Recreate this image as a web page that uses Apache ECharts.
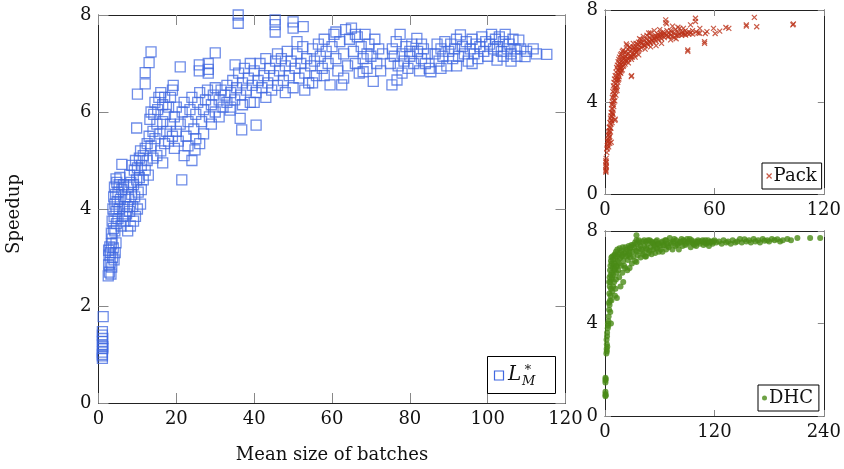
<!DOCTYPE html>
<html>
<head>
<meta charset="utf-8">
<script src="https://cdn.jsdelivr.net/npm/echarts@6/dist/echarts.min.js"></script>
<style>
html,body{margin:0;padding:0;background:#fff;}
#chart{width:844px;height:469px;}
</style>
</head>
<body>
<div id="chart"></div>
<script>
// ---- tick labels ----
var mainXTicks = [0, 20, 40, 60, 80, 100, 120];
var mainYTicks = [0, 2, 4, 6, 8];
var packXTicks = [0, 60, 120];
var dhcXTicks = [0, 120, 240];
var smallYTicks = [0, 4, 8];

// ---- series names ----
var seriesNames = ['L*M', 'Pack', 'DHC'];

// ---- L*_M points [mean batch size, speedup] ----
var lmPoints = [
[1,0.92],[1,1.0],[1,1.05],[1.1,1.12],[1,1.2],[1,1.27],[1.1,1.33],[1,1.4],[1,1.47],[1.2,1.78],[1,0.97],[1.1,1.16],
[2.5,2.62],[2.8,2.7],[3.2,2.66],[2.6,2.85],[3.0,2.9],[3.4,2.8],[2.7,3.05],[3.1,3.1],[3.6,3.0],[2.9,3.22],[3.3,3.28],[3.8,3.2],[4.0,2.95],[4.3,3.1],[4.5,3.3],[2.6,3.15],[3.5,3.38],
[3.3,3.5],[3.8,3.6],[4.2,3.55],[4.6,3.7],[3.5,3.75],[4.0,3.85],[4.5,3.95],[5.0,3.8],[3.7,4.0],[4.2,4.1],[4.8,4.15],[5.3,4.0],[3.9,4.25],[4.4,4.3],[5.0,4.35],[5.6,4.2],[4.1,4.45],[4.7,4.55],[5.3,4.5],[6.0,4.4],[4.5,4.62],[5.5,4.65],[6.4,4.5],[6.8,3.75],[7.2,3.9],[6.6,4.05],[7.0,4.25],[5.8,3.65],[6.2,3.85],[7.5,4.05],[6.0,4.92],
[7.5,3.55],[8.2,3.65],[9.0,3.75],[9.5,3.85],[8.0,3.95],[8.8,4.05],[10.0,4.0],[10.8,4.1],[7.8,4.2],[8.5,4.3],[9.3,4.25],[10.2,4.35],[11.0,4.4],[7.6,4.45],[8.3,4.55],[9.0,4.5],[9.8,4.6],[10.5,4.65],[11.5,4.6],[8.0,4.7],[9.2,4.8],[10.0,4.85],[11.0,4.9],[12.0,4.8],[9.5,5.0],[10.5,5.05],[11.5,5.1],[12.5,5.0],[10.8,5.2],[12.0,5.25],[8.6,4.9],[12.8,4.7],
[12.5,5.35],[13.0,5.5],[13.5,5.3],[14.0,5.6],[14.5,5.45],[15.0,5.75],[13.2,5.85],[14.2,5.95],[15.2,6.05],[14.5,6.2],[15.5,6.3],[16.0,6.4],[16.5,6.15],[17.0,6.3],[15.8,5.55],[16.5,5.8],[17.2,5.95],[18.0,6.1],[18.5,6.3],[19.0,6.45],[17.5,5.6],[18.5,5.75],[19.5,5.9],[20.0,6.1],[16.0,5.2],[17.0,5.35],[18.0,5.4],[19.0,5.5],[20.0,5.6],[14.0,5.05],[15.0,5.1],[16.5,4.95],[19.5,5.25],[20.5,5.4],[21.0,5.75],[21.5,6.0],[22.0,6.2],[13.5,6.0],
[10,6.37],[12,6.58],[12,6.81],[13,7.02],[13.5,7.24],[9.8,5.67],[21,6.93],[19.2,6.55],[21.4,4.6],[24.8,5.22],[25.9,6.97],[25.9,6.85],[28.2,7.0],[28.2,6.88],[28.2,6.8],[30,7.22],[35.1,6.97],[36.8,5.63],[40.5,5.73],[36.4,5.87],[35.9,8.0],[35.9,7.83],[45.4,7.9],[45.4,7.8],[45.4,7.65],[50,7.86],[50,7.73],[52.6,7.76],[33.8,6.04],
[22.5,5.5],[23,5.8],[23.5,6.05],[24,6.3],[24.5,5.65],[25,5.95],[25.5,6.2],[26,6.4],[26.5,5.8],[27,6.05],[27.5,6.25],[28,6.45],[28.5,5.9],[29,6.15],[29.5,6.35],[30,6.5],[23,5.3],[25,5.45],[27,5.55],[29,5.75],[22,5.1],[24,5.0],[26,5.35],[30,6.0],[31,6.25],[31.5,6.45],[32,6.1],[32.5,6.35],[33,6.55],[31,5.9],[33,6.2],
[34,6.4],[34.5,6.65],[35,6.25],[35.5,6.5],[36,6.8],[36.5,6.35],[37,6.6],[37.5,6.9],[38,6.45],[38.5,6.7],[39,6.2],[39.5,6.55],[40,6.85],[40.5,6.4],[41,6.65],[41.5,7.0],[42,6.5],[42.5,6.75],[43,6.3],[43.5,6.6],[44,6.9],[44.5,6.45],[45,6.75],[45.5,7.05],[34,6.1],[37,6.15],[40,6.2],[43,7.1],[39,7.0],
[46,6.55],[46.5,6.85],[47,7.1],[47.5,6.65],[48,6.95],[48.5,7.25],[49,6.75],[49.5,7.05],[50,6.5],[50.5,6.9],[51,7.2],[51.5,6.7],[52,7.0],[52.5,7.35],[53,6.8],[53.5,7.1],[54,6.6],[54.5,6.95],[55,7.3],[55.5,7.05],[56,6.75],[46,7.2],[48,6.4],[51,7.45],[53,6.45],[55,6.6],
[56.5,7.4],[57,7.15],[57.5,6.9],[58,7.5],[58.5,7.25],[59,7.0],[59.5,6.56],[60,7.35],[60.5,7.6],[61,7.1],[61.5,6.85],[62,7.45],[62.5,6.56],[63,7.2],[63.5,7.7],[64,6.95],[64.5,7.5],[65,7.73],[65.5,7.25],[66,7.0],[66.5,7.55],[67,6.8],[67.5,7.35],[68,7.1],[68.5,7.6],[69,6.9],[69.5,7.4],[70,7.15],[70.6,6.63],[71,7.5],[71.5,7.0],[72,7.3],[72.5,6.85],[73,7.2],[58,6.75],[63,6.7],[66,7.6],[69,7.2],[61,7.65],
[75,7.0],[75.5,7.3],[76,7.15],[76.5,7.45],[77,6.95],[77.5,7.6],[78,7.2],[78.5,7.05],[79,7.35],[79.5,6.9],[80,7.15],[80.5,7.4],[81,7.0],[81.8,7.52],[82,7.25],[82.5,6.85],[83,7.1],[83.5,7.3],[84,7.0],[84.5,7.2],[85,6.9],[85.4,6.83],[75.4,6.56],[76.7,6.66],[68,6.83],[78,6.8],[80,7.25],[83,7.4],
[86.5,7.2],[87,7.4],[87.5,7.05],[88,7.3],[88.5,7.15],[89,7.45],[89.5,6.95],[90,7.25],[90.5,7.4],[91,7.1],[91.5,7.3],[92,7.5],[92.5,7.15],[93,7.59],[93.5,7.35],[94,7.2],[94.5,7.45],[95,7.05],[95.5,7.3],[96,7.5],[96.5,7.2],[97,7.4],[97.5,7.1],[98,7.35],[98.5,7.55],[99,7.25],[99.5,7.45],[100,7.15],[88,6.9],[92,6.95],[96,7.0],
[100.5,7.4],[101,7.6],[101.5,7.3],[102,7.5],[102.4,7.07],[102.5,7.35],[103,7.55],[103.5,7.25],[104,7.45],[104.5,7.6],[105,7.3],[105.5,7.4],[106,7.2],[106.5,7.5],[107,7.3],[107.5,7.15],[108,7.48],[108.5,7.3],[109.6,7.14],[110,7.25],[111.7,7.3],[112.5,7.2],[115.2,7.19],[106,7.05],[104,7.15]
];

// ---- Pack points ----
var packPoints = [
[0.5,0.95],[0.5,1.05],[0.6,1.15],[0.5,1.25],[0.6,1.35],[0.5,1.45],[0.6,1.55],[0.5,1.0],[0.7,1.2],[0.6,1.4],
[1,1.8],[1.1,1.95],[1.3,2.1],[1.5,2.25],[1.7,2.4],[1.2,2.0],[1.8,2.55],[2.0,2.3],[2.2,2.6],[2.5,2.75],[2.4,2.45],[2.8,2.9],[3.0,2.7],[1.6,2.15],[2.6,2.2],[3.4,2.25],
[3.2,3.05],[3.5,3.2],[3.3,3.4],[3.8,3.35],[4.0,3.55],[3.6,3.7],[4.3,3.7],[4.5,3.9],[4.1,4.0],[4.8,4.05],[5.0,4.2],[4.6,4.3],[5.3,4.35],[5.5,4.5],[5.1,4.6],[5.8,4.65],[5.4,3.2],[5.6,3.25],[3.9,3.1],[4.4,3.45],
[6.0,4.8],[6.3,4.6],[6.5,4.95],[6.2,5.05],[6.8,5.1],[7.0,4.85],[7.3,5.2],[7.5,5.35],[7.1,5.4],[7.8,5.3],[8.0,5.5],[8.3,5.45],[8.5,5.6],[8.1,5.7],[8.8,5.65],[9.0,5.5],[9.3,5.8],[9.6,5.7],[10.0,5.85],[9.8,5.95],[6.6,4.5],[7.6,5.0],[8.6,5.25],[9.5,5.4],[10.3,5.6],
[10.5,5.9],[11,6.0],[11.4,6.2],[11.4,5.85],[11.5,5.75],[12,6.05],[12.5,5.9],[13,6.1],[13.5,6.2],[14,6.0],[14.4,5.1],[14.6,5.15],[15,6.3],[15.3,6.15],[15.8,6.05],[16,6.35],[16.5,6.25],[17,6.4],[17.5,6.2],[18,6.5],[18.5,6.3],[19,6.45],[19.5,6.6],[20,6.35],[20,6.55],[12.8,5.7],[14.5,5.85],[16.5,5.95],[18.5,6.05],[13.3,6.4],[15.5,6.55],
[21,6.5],[21.5,6.7],[22,6.45],[22.5,6.6],[23,6.75],[23.5,6.5],[24,6.65],[24.5,6.8],[25,6.55],[25.5,6.7],[26,6.85],[26.5,6.6],[27,6.75],[27.5,6.9],[28,6.65],[28.5,6.8],[29,6.95],[29.5,6.7],[30,6.85],[30.5,7.0],[31,6.75],[31.5,6.9],[32,7.05],[32.5,6.8],[33,6.95],[33.3,7.57],[33.3,7.45],[33.8,7.4],[34,7.1],[34.5,6.85],[35,7.0],[22,6.3],[25,6.4],[28,6.45],[31,6.55],[24,7.0],[27,7.1],[30,7.15],
[36,6.9],[36.5,7.05],[37,6.85],[38,7.0],[38.5,7.15],[39,6.9],[40,7.05],[40.5,6.95],[41,7.2],[42,6.9],[42.5,7.05],[43,6.95],[44,7.1],[44.2,6.91],[45,7.0],[45.4,6.26],[45.4,6.2],[46,7.05],[46.9,7.35],[47,7.0],[48,7.1],[49.6,7.64],[49.6,7.5],[50,7.05],[51,7.0],[51.9,6.99],[52,7.2],[54.6,6.62],[54.6,6.55],[55,6.98],[37,7.3],[40,7.25],[43,7.2],[36,6.7],[39,6.75],
[55.9,7.06],[59.5,7.2],[60.4,6.98],[62.9,7.08],[66.3,7.24],[67.9,7.2],[77.5,7.35],[77.5,7.3],[81.9,7.68],[83.2,7.27],[103.3,7.39],[103,7.35],
[1.4,2.3],[1.9,2.7],[2.3,2.9],[2.7,3.1],[3.0,3.3],[3.4,3.55],[3.7,3.9],[4.0,4.2],[4.3,4.45],[4.6,4.7],[4.9,4.85],[5.2,5.0],[5.6,5.15],[6.0,5.3],[6.4,5.5],[6.8,5.6],[7.2,5.75],[7.6,5.85],[8.0,5.95],[8.5,6.05],[9.0,6.1],[9.5,6.2],[10,6.25],
[2.0,2.05],[2.6,2.5],[3.2,2.85],[3.7,3.2],[4.2,3.5],[4.8,3.8],[5.4,4.05],[6.0,4.3],[6.6,4.7],[7.2,4.95],[7.8,5.1],[8.4,5.3],[9.0,5.35],[10,5.55],[11,5.65],[12,5.8],[13,5.85],[14,5.95],[15,5.95],[16,6.1],[17,6.15],[18,6.25],[19,6.3],
[11,6.15],[12.5,6.3],[14,6.35],[15.5,6.4],[17,6.55],[18.5,6.6],[20,6.7],[21.5,6.45],[23,6.55],[24.5,6.6],[26,6.7],[27.5,6.8],[29,6.85],[30.5,6.9],[32,6.95],[33.5,6.9],[35,6.85],[36,7.1],[38,6.8],[40,6.9],[42,7.0],[44,6.95],[46,6.95],[48,6.95],[19,6.75],[21,6.85],[23,6.9],[25,7.0],[12.1,6.45],[11.7,6.52]
];

// ---- DHC points ----
var dhcPoints = [
[0.5,1.55],[0.5,1.65],[0.5,1.45],[0.5,0.95],[0.5,0.85],[0.5,1.05],[0.8,1.6],[0.8,0.9],
[1.5,2.7],[1.8,2.9],[2.0,3.1],[1.7,3.3],[2.2,3.45],[2.0,2.8],[2.5,3.0],[2.3,3.6],[3.0,3.8],[3.2,4.0],[3.5,3.9],[3.8,4.1],
[4.0,4.3],[4.5,4.6],[5.0,4.8],[5.5,5.0],[6.0,5.2],[4.3,4.9],[4.8,5.3],[5.2,5.6],[5.8,5.8],[6.5,5.5],[7.0,5.9],[6.2,6.1],[7.5,6.2],[8.0,6.0],[8.5,6.4],[9.0,6.1],[9.5,6.5],[10.0,6.3],[4.5,5.8],[5.0,6.0],[5.5,6.3],[6.0,6.5],[6.5,6.7],[7.0,6.85],[7.5,6.6],[8.0,6.9],[9,6.75],[10,6.95],[6.5,4.0],[5.8,4.5],[7.0,5.0],[8.0,5.4],[9.0,5.6],[10.0,5.8],[11,5.2],[11.5,5.5],[12,5.9],[12.5,6.2],
[10.5,6.6],[11,7.0],[11.5,6.8],[12,7.1],[12.5,6.5],[13,6.9],[13,5.1],[13.5,7.2],[14,6.7],[14.5,6.3],[15,7.0],[15.5,6.0],[16,7.25],[16.5,6.82],[17,5.6],[17.5,6.5],[18,7.15],[18.5,6.9],[19,6.2],[19.5,7.3],[20,5.8],[20,6.7],[21,7.05],[22,6.4],[22.5,7.3],[23,6.9],[24,7.2],[24.5,6.3],[25,6.75],[26,7.35],[26.5,7.0],[27,6.4],[27.5,7.24],[28,6.85],[29,7.4],[29.5,6.6],[30,7.1],
[31,6.9],[32,7.3],[33,6.7],[34,7.15],[34.5,7.82],[34.5,7.6],[34.5,6.66],[35,7.45],[36,6.95],[37,7.25],[38,7.5],[39,6.85],[40,7.2],[41,7.55],[42,7.0],[43,7.35],[44,6.9],[45,7.53],[45,6.9],[46,7.2],[47,7.45],[48,7.05],[49,7.6],[50,7.3],[51,7.0],[52,7.5],[53,7.2],[54,7.4],[55,7.05],[56,7.55],[57,7.25],[58,7.45],[59,7.1],[60,7.35],
[62,7.5],[63,7.1],[64,7.38],[66,7.6],[67,7.2],[68,7.45],[70,7.3],[71,7.7],[72,7.5],[74,7.2],[75,7.55],[77,7.35],[78,7.6],[80,7.45],[81,7.2],[82,7.53],[84,7.65],[85,7.35],[87,7.55],[88,7.4],[90,7.65],[92,7.5],[94,7.3],[95,7.6],[97,7.45],[99,7.55],[100,7.35],[102,7.6],[104,7.45],[106,7.55],[108,7.4],[110,7.6],[112,7.5],[114,7.35],[116,7.55],[117,7.53],[118,7.45],[120,7.6],
[122,7.5],[125,7.55],[128,7.45],[130,7.6],[133,7.5],[135,7.55],[138,7.45],[140,7.6],[143,7.5],[145,7.55],[148,7.65],[150,7.5],[153,7.64],[155,7.55],[158,7.6],[160,7.5],[163,7.65],[165,7.55],[168,7.6],[170,7.5],[173,7.65],[175,7.58],[178,7.6],[180,7.55],[183,7.65],[186,7.6],[189,7.64],[192,7.55],[195,7.6],[200,7.65],[204,7.6],[211,7.7],[225,7.7],[236,7.7],
[31,7.4],[33,7.5],[35,7.1],[37,7.6],[39,7.35],[41,7.1],[43,7.6],[45,7.25],[47,7.6],[49,7.15],[51,7.55],[53,7.45],[55,7.3],[57,7.6],[59,7.45],[61,7.2],[63,7.55],[65,7.4],[67,7.6],[69,7.35],[73,7.45],[76,7.65],[79,7.4],[83,7.5],[86,7.6],[89,7.45],[91,7.55],[93,7.65],[96,7.5],[98,7.4],[101,7.5],[103,7.55],[107,7.6],[109,7.5],[111,7.45],[113,7.6],[115,7.5],[119,7.55],
[21,6.5],[23,7.1],[25,6.95],[27,7.1],[28,7.3],[19,6.95],[17,7.05],[15,6.6],[13,6.45],[11,6.35]
];

// ---- styles ----
var FONT = 'DejaVu Serif';
var FS = 18;
var BLUE = '#3f67e0', RED = '#bb3219', GREEN = '#4a8b17';
var CROSS = 'path://M0,0L10,10M10,0L0,10';

function xAx(gi, ticks, pos, tickLen, showLabel) {
  return {
    type: 'value', gridIndex: gi, position: pos,
    min: ticks[0], max: ticks[ticks.length - 1], interval: ticks[1] - ticks[0],
    axisLine: {show: true, onZero: false, lineStyle: {color: '#222', width: 1}},
    axisTick: {show: true, inside: true, length: tickLen, lineStyle: {color: '#888', width: 1}},
    splitLine: {show: false},
    axisLabel: {show: showLabel, fontFamily: FONT, fontSize: FS, color: '#111', margin: 7}
  };
}
function yAx(gi, ticks, pos, tickLen, showLabel) {
  return {
    type: 'value', gridIndex: gi, position: pos,
    min: ticks[0], max: ticks[ticks.length - 1], interval: ticks[1] - ticks[0],
    axisLine: {show: true, onZero: false, lineStyle: {color: '#222', width: 1}},
    axisTick: {show: true, inside: true, length: tickLen, lineStyle: {color: '#888', width: 1}},
    splitLine: {show: false},
    axisLabel: {show: showLabel, fontFamily: FONT, fontSize: FS, color: '#111', margin: 7}
  };
}

var chart = echarts.init(document.getElementById('chart'), null, {renderer: 'canvas'});
var option = {
  backgroundColor: '#fff',
  animation: false,
  grid: [
    {left: 98.5, top: 15, width: 467, height: 388},
    {left: 605, top: 10, width: 222, height: 184},
    {left: 605, top: 231, width: 222, height: 185}
  ],
  xAxis: [
    xAx(0, mainXTicks, 'bottom', 10, true), xAx(0, mainXTicks, 'top', 10, false),
    xAx(1, packXTicks, 'bottom', 6, true), xAx(1, packXTicks, 'top', 6, false),
    xAx(2, dhcXTicks, 'bottom', 6, true), xAx(2, dhcXTicks, 'top', 6, false)
  ],
  yAxis: [
    yAx(0, mainYTicks, 'left', 10, true), yAx(0, mainYTicks, 'right', 10, false),
    yAx(1, smallYTicks, 'left', 6, true), yAx(1, smallYTicks, 'right', 6, false),
    yAx(2, smallYTicks, 'left', 6, true), yAx(2, smallYTicks, 'right', 6, false)
  ],
  legend: [
    {
      data: [{name: seriesNames[1], icon: CROSS, itemStyle: {color: 'rgba(0,0,0,0)', borderColor: RED, borderWidth: 1.2}}],
      left: 762, top: 163, orient: 'horizontal',
      itemWidth: 5, itemHeight: 5, itemGap: 0,
      padding: [4, 5, 4, 4], borderColor: '#000', borderWidth: 1, borderRadius: 0,
      backgroundColor: '#fff',
      textStyle: {fontFamily: FONT, fontSize: FS, color: '#111', padding: [0, 0, 0, -3]}
    },
    {
      data: [{name: seriesNames[2], icon: 'circle', itemStyle: {color: GREEN}}],
      left: 758, top: 385, orient: 'horizontal',
      itemWidth: 5, itemHeight: 5, itemGap: 0,
      padding: [4, 6, 4, 4], borderColor: '#000', borderWidth: 1, borderRadius: 0,
      backgroundColor: '#fff',
      textStyle: {fontFamily: FONT, fontSize: FS, color: '#111', padding: [0, 0, 0, -3]}
    }
  ],
  graphic: [
    {type: 'text', x: 14, y: 214, rotation: Math.PI / 2,
     style: {text: 'Speedup', font: '18px "DejaVu Serif"', fill: '#111', textAlign: 'center', textVerticalAlign: 'middle'}},
    {type: 'text', x: 332, y: 455,
     style: {text: 'Mean size of batches', font: '18px "DejaVu Serif"', fill: '#111', textAlign: 'center', textVerticalAlign: 'middle'}},
    {type: 'rect', shape: {x: 487.5, y: 356.5, width: 68, height: 37}, style: {fill: '#fff', stroke: '#000', lineWidth: 1}, z: 10},
    {type: 'rect', shape: {x: 494.5, y: 371, width: 9, height: 9}, style: {fill: 'none', stroke: BLUE, lineWidth: 1.2}, z: 11},
    {type: 'text', x: 508, y: 385, z: 11,
     style: {text: 'L', font: 'italic 20px "DejaVu Serif"', fill: '#111', textVerticalAlign: 'bottom'}},
    {type: 'text', x: 523.5, y: 374, z: 11,
     style: {text: '∗', font: '13px "DejaVu Serif"', fill: '#111', textVerticalAlign: 'bottom'}},
    {type: 'text', x: 522, y: 388, z: 11,
     style: {text: 'M', font: 'italic 13px "DejaVu Serif"', fill: '#111', textVerticalAlign: 'bottom'}}
  ],
  series: [
    {
      name: seriesNames[0], type: 'scatter', xAxisIndex: 0, yAxisIndex: 0,
      data: lmPoints, symbol: 'rect', symbolSize: 10, clip: false,
      itemStyle: {color: 'rgba(0,0,0,0)', borderColor: BLUE, borderWidth: 1.3, opacity: 0.75},
      emphasis: {disabled: true}
    },
    {
      name: seriesNames[1], type: 'scatter', xAxisIndex: 2, yAxisIndex: 2,
      data: packPoints, symbol: CROSS, symbolSize: 5,
      itemStyle: {color: 'rgba(0,0,0,0)', borderColor: RED, borderWidth: 1.2},
      emphasis: {disabled: true}
    },
    {
      name: seriesNames[2], type: 'scatter', xAxisIndex: 4, yAxisIndex: 4,
      data: dhcPoints, symbol: 'circle', symbolSize: 6,
      itemStyle: {color: GREEN},
      emphasis: {disabled: true}
    }
  ]
};
chart.setOption(option);
</script>
</body>
</html>
